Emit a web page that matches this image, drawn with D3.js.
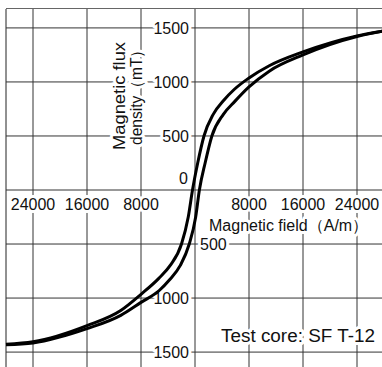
<!DOCTYPE html>
<html>
<head>
<meta charset="utf-8">
<script src="https://cdn.jsdelivr.net/npm/d3@7/dist/d3.min.js"></script>
<style>
  html, body { margin: 0; padding: 0; background: #fff; }
  svg { display: block; }
  text { font-family: "Liberation Sans", Arial, Helvetica, sans-serif; fill: #111; }
</style>
</head>
<body>
<div id="chart"></div>
<script>
// B-H hysteresis loop: magnetic field H (A/m) vs magnetic flux density B (mT)
const xTicks = [-24000, -16000, -8000, 8000, 16000, 24000];
const yTicks = [-1500, -1000, -500, 500, 1000, 1500];

// Descending branch (upper branch of the loop), listed by rising H
const descendingH = [-28000, -24000, -16000, -11000, -8000, -5400, -3700, -2000, -1000, -370, 400, 1330, 2700, 4300, 5800, 8000, 11000, 16000, 24000, 28000];
const descendingB = [-1428, -1405, -1255, -1115, -965, -820, -700, -500, -250, 0, 250, 500, 700, 833, 930, 1037, 1150, 1278, 1426, 1472];

// Ascending branch (lower branch of the loop), listed by rising H
const ascendingH = [-28000, -24000, -16000, -11000, -8000, -5300, -3800, -2200, -850, 100, 650, 1500, 2500, 4200, 5900, 8000, 11000, 16000, 24000, 28000];
const ascendingB = [-1432, -1415, -1283, -1160, -1040, -930, -833, -700, -500, -250, 0, 250, 500, 700, 820, 954, 1100, 1250, 1420, 1472];

const W = 382, H = 367;
const svg = d3.select("#chart").append("svg").attr("width", W).attr("height", H);
svg.append("rect").attr("width", W).attr("height", H).attr("fill", "#fff");

const x = d3.scaleLinear().domain([-28000, 28000]).range([6, 384]);
const y = d3.scaleLinear().domain([-1675, 1675]).range([371, 9]);

const grid = svg.append("g").attr("stroke", "#333").attr("stroke-width", 1);

// frame (left and top edges; right/bottom fall outside the view)
grid.append("line").attr("x1", x(-28000)).attr("x2", x(-28000)).attr("y1", y(1675)).attr("y2", y(-1675)).attr("stroke", "#222");
grid.append("line").attr("x1", x(-28000)).attr("x2", x(28000)).attr("y1", y(1675) - 0.5).attr("y2", y(1675) - 0.5).attr("stroke", "#666");

grid.selectAll("line.v").data(xTicks.concat([0])).enter().append("line")
  .attr("x1", d => x(d)).attr("x2", d => x(d))
  .attr("y1", y(1675)).attr("y2", y(-1675));
grid.selectAll("line.h").data(yTicks.concat([0])).enter().append("line")
  .attr("x1", x(-28000)).attr("x2", x(28000))
  .attr("y1", d => y(d)).attr("y2", d => y(d));

// labels with white halo so grid lines break around them
function halo(sel) {
  return sel.attr("stroke", "#fff").attr("stroke-width", 6)
    .attr("paint-order", "stroke").attr("stroke-linejoin", "round");
}
function label(txt, px, py, anchor, size) {
  return halo(svg.append("text").attr("x", px).attr("y", py)
    .attr("text-anchor", anchor || "start")
    .attr("font-size", size || 16)
    .text(txt));
}

// y tick labels (magnitudes only)
const yLabelSide = { "1500": "left", "1000": "left", "500": "left", "-500": "right", "-1000": "left", "-1500": "left" };
yTicks.forEach(v => {
  if (yLabelSide[String(v)] === "left") label(String(Math.abs(v)), x(0) - 6, y(v) + 6, "end");
  else label(String(Math.abs(v)), x(0) + 5, y(v) + 6, "start");
});
label("0", x(0) - 7, y(0) - 6, "end");

// x tick labels (magnitudes only)
xTicks.forEach(v => label(String(Math.abs(v)), x(v), y(0) + 20, "middle"));

// axis titles
label("Magnetic field\uFF08A/m\uFF09", 209, 231, "start");
halo(svg.append("g").attr("transform", "translate(125,42) rotate(-90)")
  .append("text").attr("text-anchor", "end").attr("font-size", 16)
  .attr("textLength", 108).attr("lengthAdjust", "spacingAndGlyphs")
  .text("Magnetic flux"));
halo(svg.append("g").attr("transform", "translate(142,42) rotate(-90)")
  .append("text").attr("text-anchor", "end").attr("font-size", 16)
  .attr("textLength", 103).attr("lengthAdjust", "spacingAndGlyphs")
  .text("density\uFF08mT\uFF09"));

label("Test core: SF T-12", 375, 342, "end", 17.5)
  .attr("textLength", 154).attr("lengthAdjust", "spacingAndGlyphs");

// curves
const line = d3.line().x(d => x(d[0])).y(d => y(d[1])).curve(d3.curveMonotoneX);
const desc = descendingH.map((h, i) => [h, descendingB[i]]);
const asc = ascendingH.map((h, i) => [h, ascendingB[i]]);
svg.append("path").datum(desc).attr("d", line).attr("fill", "none").attr("stroke", "#000").attr("stroke-width", 3);
svg.append("path").datum(asc).attr("d", line).attr("fill", "none").attr("stroke", "#000").attr("stroke-width", 3);
</script>
</body>
</html>
